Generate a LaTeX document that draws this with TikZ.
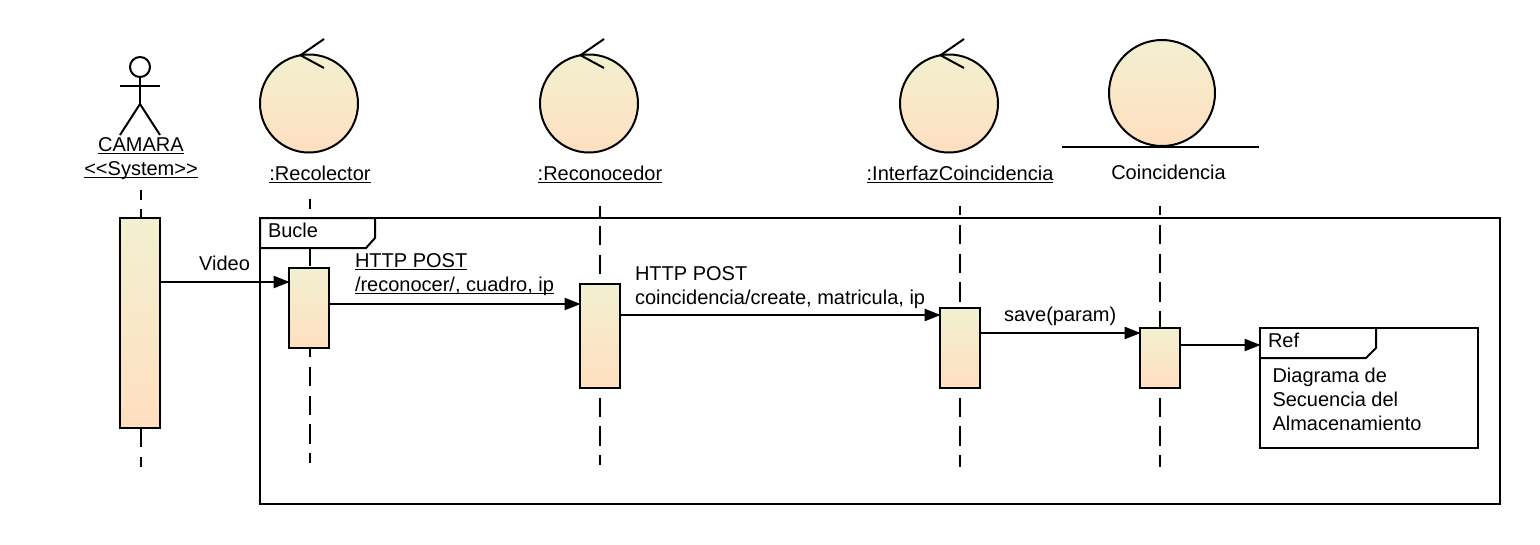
\documentclass[tikz,border=0pt]{standalone}
\usepackage{fontspec}
\setmainfont{Liberation Sans}
\usetikzlibrary{arrows.meta}

\newcommand{\umlul}[1]{\underline{\smash{#1}}}
\tikzset{
  lifeline/.style={line width=1.5, dash pattern=on 14.4pt off 7.2pt, dash phase=#1},
  activation/.style={draw, line width=1.5, minimum width=30pt, inner sep=0pt, outer sep=0pt,
    top color=actTop, bottom color=actBottom},
  robust/.style={circle, draw, line width=1.5, inner sep=0pt, outer sep=0pt,
    top color=actTop, bottom color=actBottom},
  message/.style={line width=1.5, -{Triangle[length=12pt,width=9pt]}, shorten >=-0.5pt},
  umltext/.style={font=\fontsize{15pt}{18pt}\selectfont, inner sep=0pt, outer sep=0pt},
  frag/.style={draw, line width=1.5, inner sep=0pt, outer sep=0pt},
}
\definecolor{actTop}{RGB}{242,240,208}
\definecolor{actBottom}{RGB}{255,223,192}

\begin{document}
\begin{tikzpicture}[x=0.75pt,y=0.75pt,yscale=-1,xscale=1]
\useasboundingbox (0,0) rectangle (1540,544);

%Activations
\node [activation, minimum height=157.5pt] (actCam) at (140,323) {};
\node [activation, minimum height=60pt] (actRec) at (309,308) {};
\node [activation, minimum height=78pt] (actCon) at (600,336) {};
\node [activation, minimum height=60pt] (actInt) at (960,348) {};
\node [activation, minimum height=45pt] (actCoi) at (1160,358) {};

%Lifelines
\coordinate (camTop) at (141,190);
\coordinate (camEnd) at (141,467);
\coordinate (recTop) at (310,199);
\coordinate (recEnd) at (310,463);
\coordinate (conTop) at (600,206);
\coordinate (conEnd) at (600,465);
\coordinate (intTop) at (960,206);
\coordinate (intEnd) at (960,467);
\coordinate (coiTop) at (1160,206);
\coordinate (coiEnd) at (1160,467);
\draw [lifeline=7pt] (camTop) -- (camTop |- actCam.north) ;
\draw [lifeline=0pt] (camEnd |- actCam.south) -- (camEnd) ;
\draw [lifeline=7pt] (recTop) -- (recTop |- actRec.north) ;
\draw [lifeline=7.5pt] (recEnd |- actRec.south) -- (recEnd) ;
\draw [lifeline=6.5pt] (conTop) -- (conTop |- actCon.north) ;
\draw [lifeline=14.4pt] (conEnd |- actCon.south) -- (conEnd) ;
\draw [lifeline=7.5pt] (intTop) -- (intTop |- actInt.north) ;
\draw [lifeline=14.4pt] (intEnd |- actInt.south) -- (intEnd) ;
\draw [lifeline=7.5pt] (coiTop) -- (coiTop |- actCoi.north) ;
\draw [lifeline=14.4pt] (coiEnd |- actCoi.south) -- (coiEnd) ;

%Actor
\node [circle, draw, line width=1.5, minimum size=15pt, inner sep=0pt, outer sep=0pt] (camHead) at (140,67) {};
\coordinate (camHip) at (140,104);
\coordinate (camArmL) at (120,86);
\coordinate (camArmR) at (160,86);
\coordinate (camFootL) at (120,135);
\coordinate (camFootR) at (160,135);
\draw [line width=1.5] (camHead.south) -- (camHip) ;
\draw [line width=1.5] (camArmL) -- (camArmR) ;
\draw [line width=1.5] (camFootL) -- (camHip) -- (camFootR) ;
\node [umltext, anchor=base] (lblCamara) at (141,151) {\umlul{CAMARA}};
\node [umltext, anchor=base] (lblSystem) at (141,175) {\umlul{<{}<System>{}>}};

%Control objects
\node [robust, minimum size=73.5pt] (headRec) at (309,103.5) {};
\draw [line width=1.5] (324,39) -- (headRec.100) -- (324,68) ;
\node [umltext, anchor=base] (lblRec) at (320,180) {\umlul{:Recolector}};
\node [robust, minimum size=73.5pt] (headCon) at (589,103.5) {};
\draw [line width=1.5] (604,39) -- (headCon.100) -- (604,68) ;
\node [umltext, anchor=base] (lblCon) at (600,180) {\umlul{:Reconocedor}};
\node [robust, minimum size=73.5pt] (headInt) at (949,103.5) {};
\draw [line width=1.5] (964,39) -- (headInt.100) -- (964,68) ;
\node [umltext, anchor=base] (lblInt) at (960,180) {\umlul{:InterfazCoincidencia}};

%Entity object
\node [robust, minimum size=79.5pt] (headCoi) at (1162,93) {};
\coordinate (coiBaseL) at (1062,147);
\coordinate (coiBaseR) at (1259,147);
\draw [line width=1.5] (coiBaseL) -- (coiBaseR) ;
\node [umltext] (lblCoi) at (1168.5,172) {Coincidencia};

%Bucle fragment
\node [frag, minimum width=930pt, minimum height=214.5pt] (frmBucle) at (880,361) {};
\draw [frag, fill=white] (260,218) -- (375,218) -- (375,238) -- (366,248) -- (260,248) -- cycle ;
\node [umltext, anchor=base west] (lblBucle) at (268,237) {Bucle};

%Ref fragment
\node [frag, fill=white, minimum width=163.5pt, minimum height=90pt] (frmRef) at (1369,388) {};
\draw [frag] (1260,358) -- (1366,358) -- (1376,348) -- (1376,328) ;
\node [umltext, anchor=base west] (lblRef) at (1268,347) {Ref};
\node [umltext, anchor=base west] (lblRefA) at (1272.5,382) {Diagrama de};
\node [umltext, anchor=base west] (lblRefB) at (1272.5,406) {Secuencia del};
\node [umltext, anchor=base west] (lblRefC) at (1272.5,430) {Almacenamiento};

%Messages
\coordinate (yVideo) at (0,282);
\coordinate (yRec) at (0,304);
\coordinate (yCon) at (0,315);
\coordinate (ySave) at (0,333);
\coordinate (yRef) at (0,345);
\draw [message] (actCam.east |- yVideo) -- (actRec.west |- yVideo) ;
\draw [message] (actRec.east |- yRec) -- (actCon.west |- yRec) ;
\draw [message] (actCon.east |- yCon) -- (actInt.west |- yCon) ;
\draw [message] (actInt.east |- ySave) -- (actCoi.west |- ySave) ;
\draw [message] (actCoi.east |- yRef) -- (frmRef.west |- yRef) ;

\node [umltext] (lblVideo) at (224.5,263) {Video};
\node [umltext, anchor=base west] (lblPostA) at (355,267) {\umlul{HTTP POST}};
\node [umltext, anchor=base west] (lblReco) at (355,291) {\umlul{/reconocer/, cuadro, ip}};
\node [umltext, anchor=base west] (lblPostB) at (635,280) {HTTP POST};
\node [umltext, anchor=base west] (lblCrea) at (635,304) {coincidencia/create, matricula, ip};
\node [umltext, anchor=base west] (lblSave) at (1004,321) {save(param)};

\end{tikzpicture}
\end{document}
